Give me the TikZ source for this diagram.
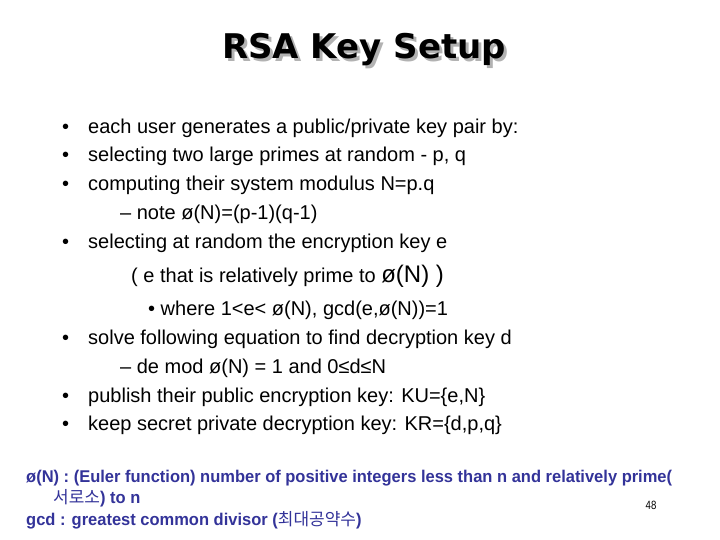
\documentclass[tikz,border=0pt]{standalone}
\usepackage{fontspec}
\setmainfont{Liberation Sans}
\newfontfamily\titlefont{DejaVu Sans}
\newfontfamily\kr{Noto Sans CJK KR}
\definecolor{navy}{HTML}{333399}
\begin{document}
\begin{tikzpicture}[x=1pt,y=-1pt,
  txt/.style={anchor=base west,inner sep=0pt,font=\fontsize{20}{24}\selectfont},
  bot/.style={anchor=base west,inner sep=0pt,text=navy,font=\fontsize{17}{20}\selectfont\bfseries\addfontfeatures{FakeStretch=0.97}}]
\useasboundingbox (0,0) rectangle (720,540);
\node[anchor=base,inner sep=0pt,text=gray!60,font=\titlefont\bfseries\fontsize{34}{40}\selectfont] (ts) at (367,62) {RSA Key Setup};
\node[anchor=base,inner sep=0pt,font=\titlefont\bfseries\fontsize{34}{40}\selectfont] (t) at (364,59) {RSA Key Setup};
\node[txt] (d1) at (62,134) {•}; \node[txt] (l1) at (88,134) {each user generates a public/private key pair by:};
\node[txt] (d2) at (62,162) {•}; \node[txt] (l2) at (88,162) {selecting two large primes at random - p, q};
\node[txt] (d3) at (62,191) {•}; \node[txt] (l3) at (88,191) {computing their system modulus N=p.q};
\node[txt] (n1) at (120,219) {– note ø(N)=(p-1)(q-1)};
\node[txt] (d4) at (62,248) {•}; \node[txt] (l4) at (88,248) {selecting at random the encryption key e};
\node[txt] (n2) at (131,282) {( e that is relatively prime to \fontsize{24}{28}\selectfont ø(N) )};
\node[txt] (n3) at (148,315) {• where 1<e< ø(N), gcd(e,ø(N))=1};
\node[txt] (d5) at (62,344) {•}; \node[txt] (l5) at (88,344) {solve following equation to find decryption key d};
\node[txt] (n4) at (120,373) {– de mod ø(N) = 1 and 0≤d≤N};
\node[txt] (d6) at (62,402) {•}; \node[txt] (l6) at (88,402) {publish their public encryption key: KU=\{e,N\}};
\node[txt] (d7) at (62,430) {•}; \node[txt] (l7) at (88,430) {keep secret private decryption key: KR=\{d,p,q\}};
\node[bot] (b1) at (26,482) {ø(N) : (Euler function) number of positive integers less than n and relatively prime(};
\node[bot] (b2) at (53,503) {{\kr\mdseries 서로소}) to n};
\node[bot] (b3) at (26,525) {gcd : greatest common divisor ({\kr\mdseries 최대공약수})};
\node[anchor=base,inner sep=0pt,font=\fontsize{12}{14}\selectfont\addfontfeatures{FakeStretch=0.8}] (pg) at (651,509) {48};
\end{tikzpicture}
\end{document}
